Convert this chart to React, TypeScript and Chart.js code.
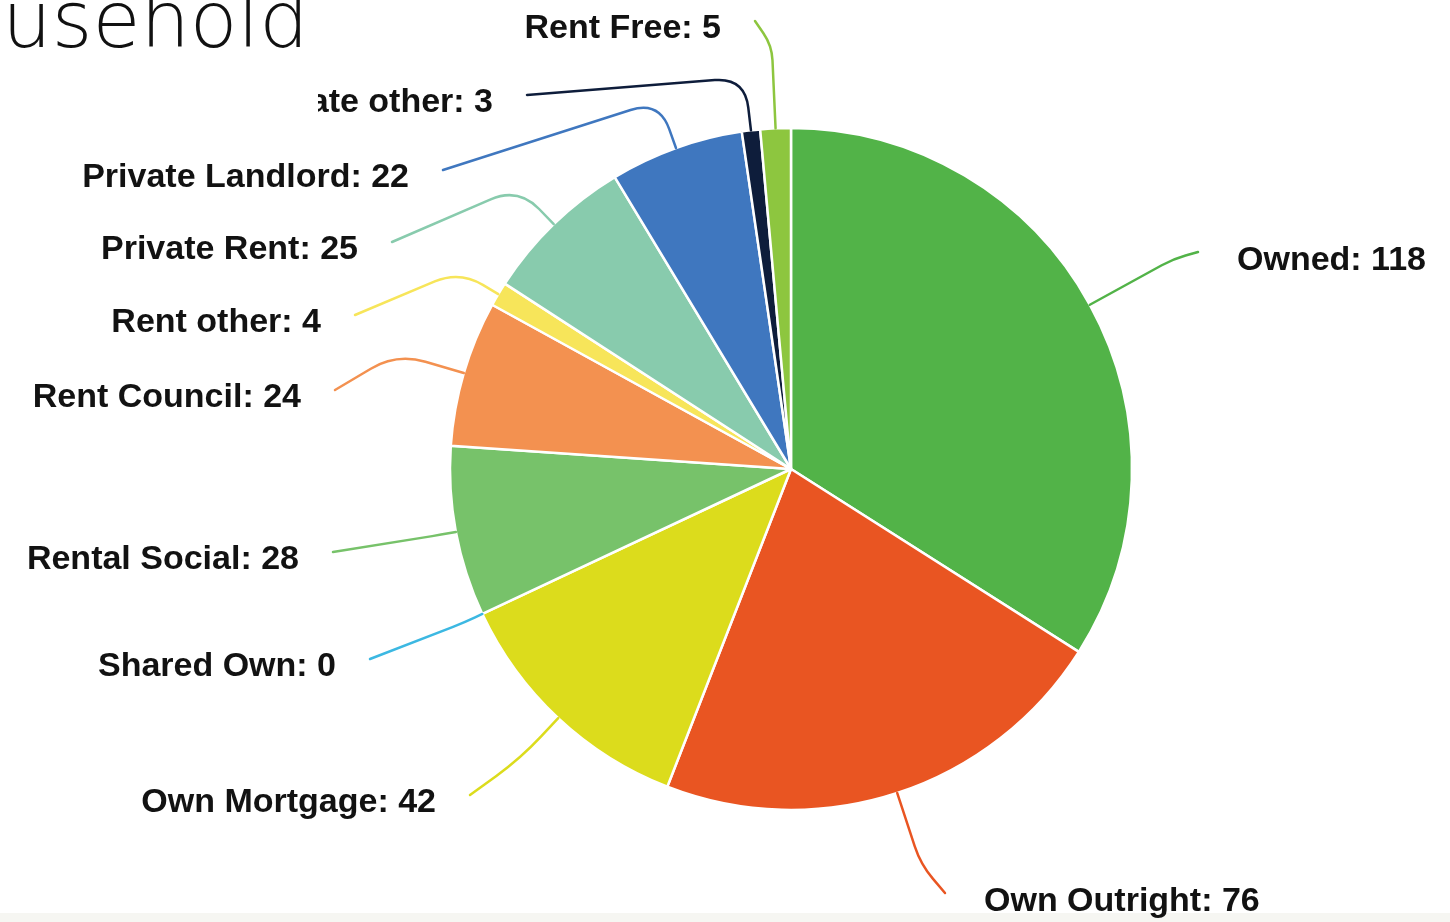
import React, { useEffect, useRef } from "react";
import { Chart, registerables } from "chart.js";

Chart.register(...registerables);

const categories = [
  "Owned",
  "Own Outright",
  "Own Mortgage",
  "Shared Own",
  "Rental Social",
  "Rent Council",
  "Rent other",
  "Private Rent",
  "Private Landlord",
  "Private other",
  "Rent Free",
];
const values = [118, 76, 42, 0, 28, 24, 4, 25, 22, 3, 5];
const colors = [
  "#52b348",
  "#e95522",
  "#dcdc1c",
  "#3cb8e2",
  "#77c26a",
  "#f39150",
  "#f7e55a",
  "#88cbad",
  "#3f77bf",
  "#0e1d3b",
  "#8dc63f",
];

// label layout (leader-line end points, elbow distance beyond the rim, text side)
const lineEndX = [1198, 945, 470, 370, 333, 335, 355, 392, 443, 527, 755];
const lineEndY = [252, 893, 795, 659, 552, 390, 315, 242, 170, 95, 21];
const elbowOut = [95, 75, 55, 20, 15, 70, 45, 51, 50, 53, 83];
const textOnRight = [true, true, false, false, false, false, false, false, false, false, false];
const textClipLeft = [null, null, null, null, null, null, null, null, null, 318, null];

const titleText = "Household";

function roundedLeader(ctx: CanvasRenderingContext2D, p0: number[], p1: number[], e: number[]) {
  const d0 = Math.hypot(p0[0] - p1[0], p0[1] - p1[1]);
  const d1 = Math.hypot(e[0] - p1[0], e[1] - p1[1]);
  const rc = Math.min(30, d0 * 0.6, d1 * 0.5);
  const ax = p1[0] + ((p0[0] - p1[0]) / (d0 || 1)) * rc;
  const ay = p1[1] + ((p0[1] - p1[1]) / (d0 || 1)) * rc;
  const bx = p1[0] + ((e[0] - p1[0]) / (d1 || 1)) * rc;
  const by = p1[1] + ((e[1] - p1[1]) / (d1 || 1)) * rc;
  ctx.beginPath();
  ctx.moveTo(p0[0], p0[1]);
  ctx.lineTo(ax, ay);
  ctx.quadraticCurveTo(p1[0], p1[1], bx, by);
  ctx.lineTo(e[0], e[1]);
  ctx.stroke();
}

const labelPlugin = {
  id: "leaderLabels",
  beforeDraw(chart: any) {
    const ctx = chart.ctx;
    ctx.save();
    ctx.fillStyle = "#ffffff";
    ctx.fillRect(0, 0, chart.width, chart.height);
    ctx.fillStyle = "#f6f6f2";
    ctx.fillRect(0, 913, chart.width, chart.height - 913);
    ctx.restore();
  },
  afterDraw(chart: any) {
    const ctx = chart.ctx;
    const meta = chart.getDatasetMeta(0);
    ctx.save();
    meta.data.forEach((arc: any, i: number) => {
      const { x, y, startAngle, endAngle, outerRadius } = arc.getProps(
        ["x", "y", "startAngle", "endAngle", "outerRadius"],
        true
      );
      const mid = (startAngle + endAngle) / 2;
      const p0 = [x + Math.cos(mid) * outerRadius, y + Math.sin(mid) * outerRadius];
      const r1 = outerRadius + elbowOut[i];
      const p1 = [x + Math.cos(mid) * r1, y + Math.sin(mid) * r1];
      const ex = lineEndX[i];
      const ey = lineEndY[i];
      ctx.strokeStyle = colors[i];
      ctx.lineWidth = 2.5;
      ctx.lineJoin = "round";
      ctx.lineCap = "round";
      roundedLeader(ctx, p0, p1, [ex, ey]);

      ctx.save();
      const clip = textClipLeft[i];
      if (clip !== null) {
        ctx.beginPath();
        ctx.rect(clip, 0, chart.width, chart.height);
        ctx.clip();
      }
      ctx.font = "bold 34px 'Liberation Sans', Arial, sans-serif";
      ctx.fillStyle = "#121212";
      ctx.textBaseline = "middle";
      const label = `${categories[i]}: ${values[i]}`;
      if (textOnRight[i]) {
        ctx.textAlign = "left";
        ctx.fillText(label, ex + 39, ey + 9);
      } else {
        ctx.textAlign = "right";
        ctx.fillText(label, ex - 34, ey + 8);
      }
      ctx.restore();
    });

    // handwritten-style title, cropped at the top-left
    ctx.font = "200 78px 'DejaVu Sans', sans-serif";
    ctx.fillStyle = "#111111";
    ctx.textAlign = "left";
    ctx.textBaseline = "alphabetic";
    ctx.fillText(titleText, -104, 47);
    ctx.restore();
  },
};

export default function App() {
  const canvasRef = useRef<HTMLCanvasElement | null>(null);

  useEffect(() => {
    if (!canvasRef.current) return;
    const chart = new Chart(canvasRef.current, {
      type: "pie",
      data: {
        labels: categories,
        datasets: [
          {
            data: values,
            backgroundColor: colors,
            borderColor: "#ffffff",
            borderWidth: 2.5,
            hoverOffset: 0,
            radius: 341,
          } as any,
        ],
      },
      options: {
        responsive: false,
        animation: false,
        events: [],
        layout: { padding: { left: 450, top: 128, right: 318, bottom: 112 } },
        plugins: {
          legend: { display: false },
          tooltip: { enabled: false },
          title: { display: false },
        },
      },
      plugins: [labelPlugin],
    });
    return () => chart.destroy();
  }, []);

  return (
    <div style={{ position: "fixed", left: 0, top: 0, width: 1450, height: 922, background: "#fff" }}>
      <canvas ref={canvasRef} width={1450} height={922} />
    </div>
  );
}
